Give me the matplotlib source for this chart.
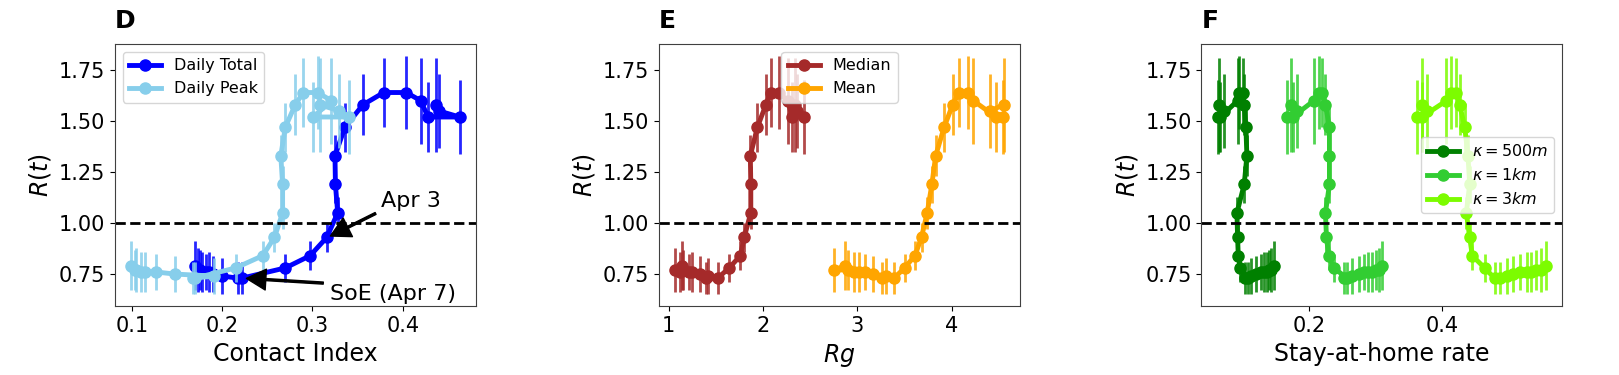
import numpy as np
import matplotlib.pyplot as plt
from matplotlib.ticker import MultipleLocator

# R(t) time series (shared by all curves) and its error
r_t = [1.58, 1.55, 1.52, 1.52, 1.60, 1.64, 1.64, 1.58, 1.47, 1.33, 1.19, 1.05, 0.93,
       0.84, 0.78, 0.73, 0.73, 0.74, 0.75, 0.76, 0.76, 0.76, 0.77, 0.77, 0.79]
r_err = [0.23, 0.18, 0.18, 0.17, 0.21, 0.18, 0.17, 0.15, 0.12, 0.10, 0.09, 0.08, 0.07,
         0.07, 0.07, 0.08, 0.08, 0.09, 0.09, 0.09, 0.10, 0.10, 0.10, 0.11, 0.12]

# panel D: contact index
daily_total = [0.437, 0.440, 0.463, 0.428, 0.420, 0.404, 0.379, 0.356, 0.336, 0.325, 0.3255,
               0.328, 0.316, 0.2975, 0.270, 0.222, 0.218, 0.200, 0.190, 0.182, 0.178, 0.185,
               0.176, 0.173, 0.170]
daily_peak = [0.308, 0.330, 0.340, 0.301, 0.321, 0.306, 0.290, 0.281, 0.270, 0.265, 0.267,
              0.267, 0.258, 0.245, 0.215, 0.170, 0.168, 0.191, 0.1475, 0.127, 0.115, 0.110,
              0.103, 0.105, 0.0995]

# panel E: radius of gyration
rg_median = [2.34, 2.36, 2.43, 2.31, 2.26, 2.17, 2.08, 2.03, 1.94, 1.865, 1.87, 1.87, 1.80,
             1.76, 1.64, 1.52, 1.39, 1.42, 1.33, 1.21, 1.12, 1.25, 1.15, 1.07, 1.14]
rg_mean = [4.55, 4.41, 4.54, 4.47, 4.23, 4.17, 4.08, 4.01, 3.92, 3.83, 3.79, 3.74, 3.68,
           3.61, 3.50, 3.39, 3.26, 3.30, 3.17, 3.08, 2.96, 3.02, 2.90, 2.755, 2.865]

# panel F: stay-at-home rate
home_500m = [0.0645, 0.072, 0.062, 0.066, 0.092, 0.0945, 0.0995, 0.102, 0.1045, 0.106, 0.102,
             0.091, 0.092, 0.093, 0.096, 0.107, 0.103, 0.112, 0.1195, 0.128, 0.132, 0.136,
             0.1395, 0.143, 0.147]
home_1km = [0.172, 0.182, 0.167, 0.175, 0.207, 0.2145, 0.219, 0.2245, 0.2305, 0.2305, 0.2305,
            0.2245, 0.226, 0.2295, 0.237, 0.257, 0.252, 0.265, 0.275, 0.282, 0.288, 0.294,
            0.300, 0.305, 0.3095]
home_3km = [0.3695, 0.377, 0.362, 0.370, 0.407, 0.4145, 0.422, 0.427, 0.4345, 0.4395, 0.442,
            0.437, 0.442, 0.446, 0.4645, 0.4795, 0.488, 0.498, 0.508, 0.518, 0.528, 0.535,
            0.542, 0.550, 0.557]


def curve(ax, x, color, label):
    ax.errorbar(x, r_t, yerr=r_err, fmt='none', ecolor=color, elinewidth=2, alpha=0.85)
    ax.plot(x, r_t, '-o', color=color, lw=3.5, ms=8, label=label)


fig = plt.figure(figsize=(16.19, 3.75), dpi=100)
lefts = [0.071, 0.407, 0.742]
axes = [fig.add_axes([l, 0.183, 0.223, 0.70]) for l in lefts]
axD, axE, axF = axes

arrow = dict(facecolor='black', shrink=0.05, width=1.5, headwidth=15, headlength=14)
curve(axD, daily_total, 'blue', 'Daily Total')
curve(axD, daily_peak, 'skyblue', 'Daily Peak')
axD.annotate('Apr 3', xy=(0.317, 0.93), xytext=(0.376, 1.08), fontsize=16, arrowprops=arrow)
axD.annotate('SoE (Apr 7)', xy=(0.222, 0.73), xytext=(0.32, 0.625), fontsize=16,
             arrowprops=arrow)
axD.set_xlabel('Contact Index', fontsize=17)
axD.legend(loc='upper left', fontsize=11.5)

curve(axE, rg_median, 'brown', 'Median')
curve(axE, rg_mean, 'orange', 'Mean')
axE.set_xlabel('$Rg$', fontsize=17)
axE.legend(loc='upper center', fontsize=11.5)

curve(axF, home_500m, 'green', r'$\kappa=500m$')
curve(axF, home_1km, 'limegreen', r'$\kappa=1km$')
curve(axF, home_3km, 'lawngreen', r'$\kappa=3km$')
axF.set_xlabel('Stay-at-home rate', fontsize=17)
axF.xaxis.set_major_locator(MultipleLocator(0.2))
axF.legend(loc='center right', fontsize=11.5)

for ax, letter in zip(axes, ['D', 'E', 'F']):
    ax.axhline(1.0, color='black', ls='--', lw=2)
    ax.set_yticks([0.75, 1.00, 1.25, 1.50, 1.75])
    ax.set_ylabel('$R(t)$', fontsize=17)
    ax.tick_params(labelsize=15)
    for s in ax.spines.values():
        s.set_color('0.25')
    ax.text(0.0, 1.04, letter, transform=ax.transAxes, fontsize=18,
            fontweight='bold', va='bottom')

fig.savefig('out.png', dpi=100)
